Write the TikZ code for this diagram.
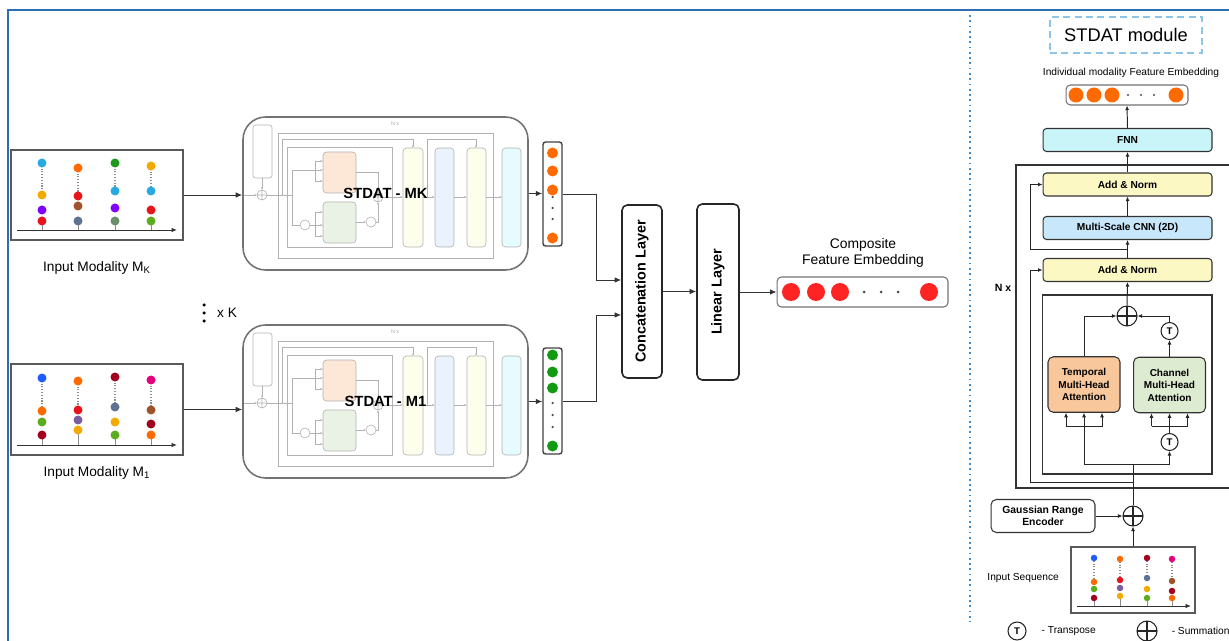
\documentclass[tikz,border=0pt]{standalone}
\usepackage{fontspec}
\setmainfont{Liberation Sans}
\usetikzlibrary{arrows.meta,positioning,calc}
\definecolor{frameblue}{HTML}{2C6DB5}
\definecolor{sepblue}{HTML}{3C8DCB}
\definecolor{titleblue}{HTML}{8CC4EA}
\definecolor{cFnn}{HTML}{C9F5F9}
\definecolor{cNorm}{HTML}{FBF8C4}
\definecolor{cCnn}{HTML}{C8E7FA}
\definecolor{cTemp}{HTML}{F8C89C}
\definecolor{cChan}{HTML}{DDEBD1}
\definecolor{gOrange}{HTML}{FDE8D8}
\definecolor{gGreen}{HTML}{EAF2E5}
\definecolor{gYellow}{HTML}{FEFEEC}
\definecolor{gBlue}{HTML}{EAF2FC}
\definecolor{gCyan}{HTML}{E6FBFD}
% dot colours
\definecolor{dSky}{HTML}{29A9E1}
\definecolor{dAmber}{HTML}{F2A900}
\definecolor{dViolet}{HTML}{7F00FF}
\definecolor{dRed}{HTML}{E8141C}
\definecolor{dOrng}{HTML}{FF6A00}
\definecolor{dBrown}{HTML}{A0522D}
\definecolor{dSlate}{HTML}{5E7391}
\definecolor{dGreen}{HTML}{1E9A1E}
\definecolor{dSage}{HTML}{6B8E6B}
\definecolor{dLime}{HTML}{5CAD1E}
\definecolor{dBlue}{HTML}{1F5CFF}
\definecolor{dMaroon}{HTML}{A3001E}
\definecolor{dMauve}{HTML}{7B5C9E}
\definecolor{dPink}{HTML}{E5007E}
\definecolor{embRed}{HTML}{FF2424}
\definecolor{embGreen}{HTML}{139A13}

% time-series dots: #1 axis y, #2/#3 axis x, #4 dot radius, #5 columns
\newcommand\drawseq[5]{%
  \foreach \sx/\ya/\colA/\yb/\colB/\yc/\colC/\yd/\colD in {#5}{
    \draw[black!45,densely dotted,line width=0.6pt] (\sx,\ya) -- (\sx,\yb);
    \draw[black!45] (\sx,\yd) -- (\sx,#1);
    \fill[\colA] (\sx,\ya) circle (#4);
    \fill[\colB] (\sx,\yb) circle (#4);
    \fill[\colC] (\sx,\yc) circle (#4);
    \fill[\colD] (\sx,\yd) circle (#4);
  }
  \draw[-{Latex[length=1.1mm,width=0.9mm]},black!80,line width=0.5pt] (#2,#1) -- (#3,#1);
}

% faded copy of the module inside an STDAT box
\newcommand\ghostnet[1]{%
  \begin{scope}[shift={(0,#1)},gray!60,line width=0.35pt]
    \draw[rounded corners=1.5pt] (253,125) rectangle (272,178);
    \draw[gga] (262,178) -- (262,190);
    \draw (262,195) circle (0.1cm) (257,195) -- (267,195) (262,190) -- (262,200);
    \draw[gga] (243,195) -- (257,195);
    \draw (267,195) -- (292,195);
    \draw (278,133) rectangle (493,258);
    \draw (287,147) rectangle (392,247);
    \draw[gga] (282,195) -- (282,139) -- (413,139) -- (413,148);
    \draw[gga] (427,197) -- (427,139) -- (476,139) -- (476,148);
    \draw (292,195) -- (292,170) -- (315,170);
    \draw (315,161) -- (315,181);
    \foreach \gy in {161,170,181} \draw[gga] (315,\gy) -- (323,\gy);
    \draw (292,195) -- (292,225) -- (300,225);
    \draw (305,225) circle (0.1cm);
    \draw (310,225) -- (315,225);
    \draw (315,212) -- (315,236);
    \foreach \gy in {212,225,236} \draw[gga] (315,\gy) -- (323,\gy);
    \draw[fill=gOrange,rounded corners=2pt] (323,152) rectangle (356,193);
    \draw[fill=gGreen,rounded corners=2pt] (323,202) rectangle (356,243);
    \draw[gga] (356,172) -| (378,192);
    \draw (378,197) circle (0.1cm) (373,197) -- (383,197) (378,192) -- (378,202);
    \draw[gga] (356,222) -- (366,222);
    \draw (371,222) circle (0.1cm);
    \draw[gga] (376,222) -| (378,202);
    \draw[gga] (383,197) -- (403,197);
    \draw[fill=gYellow,rounded corners=2pt] (403,148) rectangle (423,247);
    \draw[gga] (423,197) -- (435,197);
    \draw[fill=gBlue,rounded corners=2pt] (435,148) rectangle (454,247);
    \draw[gga] (454,197) -- (467,197);
    \draw[fill=gYellow,rounded corners=2pt] (467,148) rectangle (486,247);
    \draw[gga] (486,197) -- (502,197);
    \draw[fill=gCyan,rounded corners=2pt] (502,148) rectangle (521,247);
    \node[text=gray!70,font=\fontsize{3}{3}\selectfont] (ghostnx#1) at (395,124) {N x};
  \end{scope}
}

\begin{document}
\begin{tikzpicture}[x=0.02cm,y=-0.02cm,
  font=\fontsize{7.8}{9.4}\selectfont,
  arr/.style={-{Latex[length=1.3mm,width=1.1mm]},black!80,line width=0.55pt},
  sarr/.style={-{Latex[length=0.9mm,width=0.8mm]},black!85,line width=0.55pt},
  gga/.style={-{Latex[length=0.5mm,width=0.45mm]}},
  seqbox/.style={draw=black!65,line width=0.7pt,fill=white,inner sep=0pt},
  stdat/.style={draw=black!55,line width=0.9pt,rounded corners=0.45cm,minimum width=5.7cm,
                minimum height=3.06cm,font=\bfseries\fontsize{8.4}{10}\selectfont},
  outcol/.style={draw=black!75,line width=0.8pt,rounded corners=1.5pt,minimum width=0.38cm,inner sep=0pt},
  tall/.style={draw=black!85,line width=0.9pt,rounded corners=3pt,fill=white,inner sep=0pt,
               font=\bfseries\fontsize{8.2}{10}\selectfont},
  embbox/.style={draw=black!55,line width=0.6pt,rounded corners=2.5pt,fill=white,inner sep=0pt},
  blk/.style={draw=black!80,line width=0.6pt,rounded corners=2pt,minimum width=3.38cm,
              minimum height=0.46cm,inner sep=0pt,font=\bfseries\fontsize{5.8}{7}\selectfont},
  att/.style={draw=black!80,line width=0.6pt,rounded corners=3pt,minimum width=1.44cm,
              minimum height=1.11cm,inner sep=0pt,align=center,font=\bfseries\fontsize{5.7}{7.1}\selectfont},
  attframe/.style={draw=black!80,line width=0.6pt,minimum width=3.4cm,minimum height=3.58cm,inner sep=0pt},
  sumc/.style={circle,draw=black!85,line width=0.6pt,fill=white,minimum size=0.4cm,inner sep=0pt,
               path picture={\draw[black!85,line width=0.6pt]
                 (path picture bounding box.north) -- (path picture bounding box.south)
                 (path picture bounding box.west) -- (path picture bounding box.east);}},
  tc/.style={circle,draw=black!85,line width=0.6pt,fill=white,minimum size=0.34cm,inner sep=0pt,
             font=\bfseries\fontsize{5.5}{6}\selectfont},
  smalltxt/.style={font=\fontsize{5.8}{7}\selectfont}]

\useasboundingbox (0,0) rectangle (1229,641);
\draw[frameblue,line width=1.2pt] (8,641) -- (8,10) -- (1229,10);
\draw[sepblue,dotted,line width=1pt] (970,15) -- (970,622);

% ---- input modalities
\node[seqbox,minimum width=3.44cm,minimum height=1.8cm] (inK) at (97,195) {};
\drawseq{230}{17}{177}{0.09cm}{42/163/dSky/195/dAmber/210/dViolet/221/dRed,
  78/168/dOrng/196/dRed/206/dBrown/221/dSlate,
  115/163/dGreen/191/dSky/208/dViolet/221/dSage,
  151/166/dAmber/191/dSky/210/dRed/221/dLime}
\node (labK) at (97,268) {Input Modality M\textsubscript{K}};

\node[seqbox,minimum width=3.44cm,minimum height=1.82cm] (in1) at (97,409.5) {};
\drawseq{445}{17}{177}{0.09cm}{42/378/dBlue/411/dOrng/422/dLime/435/dMaroon,
  78/381/dOrng/410/dRed/420/dMauve/430/dAmber,
  115/377/dMaroon/407/dSlate/422/dAmber/435/dLime,
  151/380/dPink/410/dBrown/424/dMaroon/435/dOrng}
\node (lab1) at (97,473) {Input Modality M\textsubscript{1}};

\foreach \dy in {305,313,321} \fill (204,\dy) circle (0.035cm);
\node (xk) at (227,313) {x K};

% ---- STDAT blocks
\ghostnet{0}
\node[stdat] (stdk) at (385.5,193.5) {STDAT - MK};
\ghostnet{208}
\node[stdat] (std1) at (385.5,401.5) {STDAT - M1};

\node[outcol,minimum height=2.08cm] (outk) at (552.5,194) {};
\foreach \dy in {153,171,190,238} \fill[dOrng] (552.5,\dy) circle (0.11cm);
\foreach \dy in {197,208,219} \fill[black!70] (552.5,\dy) circle (0.025cm);
\node[outcol,minimum height=2.12cm] (out1) at (552.5,401) {};
\foreach \dy in {355,372,388,446} \fill[embGreen] (552.5,\dy) circle (0.11cm);
\foreach \dy in {403,415,427} \fill[black!70] (552.5,\dy) circle (0.025cm);

\node[tall,minimum width=0.8cm,minimum height=3.46cm] (concat) at (642,291.5) {\rotatebox{90}{Concatenation Layer}};
\node[tall,minimum width=0.84cm,minimum height=3.52cm] (linear) at (718,292) {\rotatebox{90}{Linear Layer}};
\node[embbox,minimum width=3.42cm,minimum height=0.6cm] (compemb) at (862.5,292) {};
\foreach \dx in {791,816,840,929} \fill[embRed] (\dx,292) circle (0.18cm);
\foreach \dx in {864,881,898} \fill[black!70] (\dx,292) circle (0.03cm);
\node[align=center,font=\fontsize{7.9}{9.4}\selectfont] (complab) at (863,253) {Composite\\Feature Embedding};

\draw[arr] (inK.east) -- (stdk.west |- inK.east);
\draw[arr] (in1.east) -- (std1.west |- in1.east);
\draw[arr] (stdk.east) -- (outk.west |- stdk.east);
\draw[arr] (std1.east) -- (out1.west |- std1.east);
\draw[arr] (outk.east) -- ++(34,0) |- ([yshift=0.23cm]concat.west);
\draw[arr] (out1.east) -- ++(34,0) |- ([yshift=-0.47cm]concat.west);
\draw[arr] (concat.east) -- (linear.west |- concat.east);
\draw[arr] (linear.east) -- (compemb.west |- linear.east);

% ---- STDAT module
\node[draw=titleblue,dash pattern=on 4pt off 2.5pt,line width=0.7pt,minimum width=3.04cm,minimum height=0.72cm,
      font=\fontsize{10.4}{12}\selectfont] (title) at (1126,35) {STDAT module};
\node[smalltxt] (embtitle) at (1131,73) {Individual modality Feature Embedding};
\node[embbox,minimum width=2.44cm,minimum height=0.4cm] (modemb) at (1127,95) {};
\foreach \dx in {1076,1094,1112,1176} \fill[dOrng] (\dx,95) circle (0.15cm);
\foreach \dx in {1128,1141,1154} \fill[black!70] (\dx,95) circle (0.022cm);

\node[blk,fill=cFnn] (fnn) at (1127.5,140) {FNN};
\node[blk,fill=cNorm] (an2) at (1127.5,184.5) {Add \& Norm};
\node[blk,fill=cCnn] (cnn) at (1127.5,228) {Multi-Scale CNN (2D)};
\node[blk,fill=cNorm] (an1) at (1127.5,270) {Add \& Norm};

\draw[black!80,line width=0.6pt] (1229,165) -- (1016,165) -- (1016,488) -- (1229,488);
\node[font=\bfseries\fontsize{6}{7}\selectfont] (nx) at (1003,288) {N x};

\node[attframe] (attn) at (1127,384.5) {};
\node[att,fill=cTemp] (temporal) at (1084,384.5) {Temporal\\Multi-Head\\Attention};
\node[att,fill=cChan] (channel) at (1169.5,385) {Channel\\Multi-Head\\Attention};
\node[sumc] (sum) at (1127,316) {};
\node[tc] (tup) at (1169.5,331) {T};
\node[tc] (tdown) at (1169.5,442) {T};

\node[draw=black!80,line width=0.6pt,rounded corners=3pt,minimum width=2.08cm,minimum height=0.66cm,align=center,
      font=\bfseries\fontsize{5.9}{7}\selectfont] (gre) at (1043,516) {Gaussian Range\\Encoder};
\node[sumc] (insum) at (1133,516) {};
\node[seqbox,minimum width=2.48cm,minimum height=1.32cm] (inseq) at (1133,580) {};
\drawseq{606}{1077}{1191}{0.065cm}{1094/558/dBlue/582/dOrng/589/dLime/598/dMaroon,
  1120/559/dOrng/580/dRed/588/dMauve/596/dAmber,
  1147/558/dMaroon/578/dSlate/589/dAmber/598/dLime,
  1172/559/dPink/581/dBrown/591/dMaroon/598/dOrng}
\node[smalltxt,anchor=east] (seqlab) at (1065,578) {Input Sequence};

\coordinate (split) at (1133,464);
\coordinate (res1) at (1133,482);
\draw[sarr] (inseq.north) -- (insum.south);
\draw[sarr] (gre.east) -- (insum.west);
\draw[black!85,line width=0.55pt] (insum.north) -- (split);
\draw[sarr] (split) -| (tdown.south);
\draw[sarr] (split) -| (temporal.south);
\draw[black!85,line width=0.55pt] ([xshift=-0.36cm,yshift=-0.28cm]temporal.south) -- ([xshift=0.36cm,yshift=-0.28cm]temporal.south);
\foreach \dx in {-0.36,0.36}
  \draw[sarr] ([xshift=\dx cm,yshift=-0.28cm]temporal.south) -- ([xshift=\dx cm]temporal.south);
\draw[sarr] (tdown.north) -- (channel.south);
\draw[black!85,line width=0.55pt] ([xshift=-0.36cm,yshift=-0.26cm]channel.south) -- ([xshift=0.36cm,yshift=-0.26cm]channel.south);
\foreach \dx in {-0.36,0.36}
  \draw[sarr] ([xshift=\dx cm,yshift=-0.26cm]channel.south) -- ([xshift=\dx cm]channel.south);
\draw[sarr] (channel.north) -- (tup.south);
\draw[sarr] (tup.north) |- (sum.east);
\draw[sarr] (temporal.north) |- (sum.west);
\draw[sarr] (sum.north) -- (an1.south);
\draw[sarr] (res1) -- ++(-103,0) |- (an1.west);
\draw[sarr] (an1.north) -- (cnn.south);
\coordinate (res2) at ($(an1.north)!0.5!(cnn.south)$);
\draw[sarr] (res2) -- ++(-97,0) |- (an2.west);
\draw[sarr] (cnn.north) -- (an2.south);
\draw[sarr] (an2.north) -- (fnn.south);
\draw[sarr] (fnn.north) -- (modemb.south);

% legend
\node[tc,minimum size=0.36cm] (legt) at (1017,631) {T};
\node[smalltxt,right=0.18cm of legt] (legtt) {- Transpose};
\node[sumc] (legs) at (1147,631) {};
\node[smalltxt,right=0.16cm of legs] (legst) {- Summation};
\end{tikzpicture}
\end{document}
